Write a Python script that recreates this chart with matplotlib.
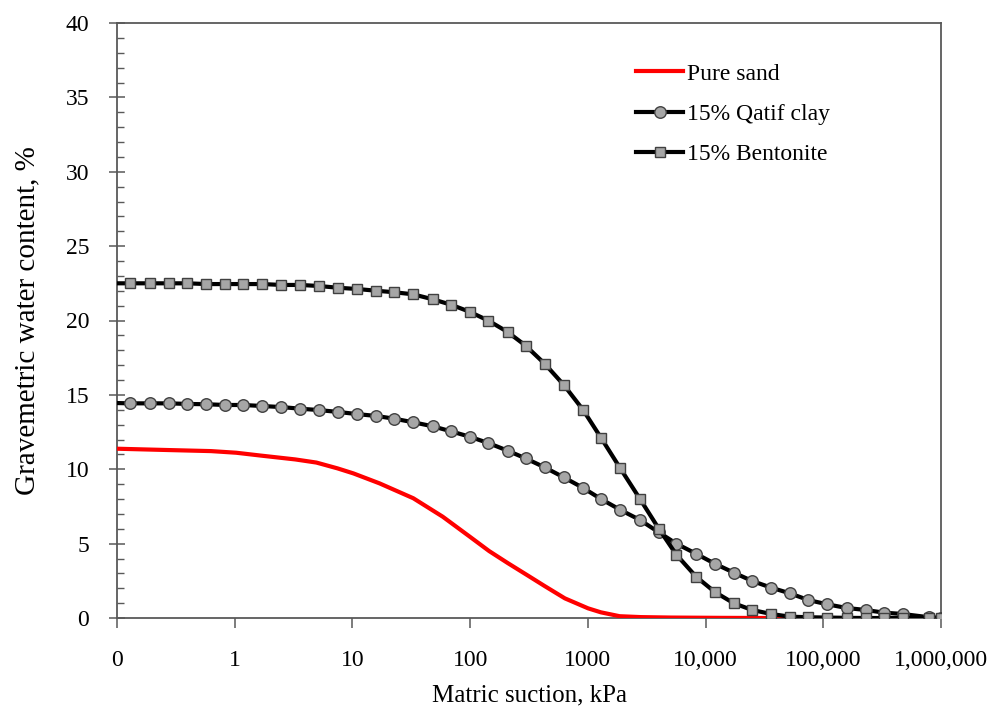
import matplotlib
matplotlib.use("Agg")
import matplotlib.pyplot as plt
from matplotlib.ticker import MultipleLocator, NullLocator

plt.rcParams['font.family'] = ['Liberation Serif', 'DejaVu Serif']

# Pure sand (smooth curve, no markers)
sand_x = [0.1, 0.276, 0.629, 1.03, 1.66, 3.27, 4.94, 7.46, 10.2, 17.0, 32.9, 58.5, 100,
          145, 208, 304, 429, 638, 1004, 1292, 1862, 2829, 5093, 13560, 31400, 60000]
sand_y = [11.38, 11.29, 11.22, 11.11, 10.92, 10.66, 10.45, 10.06, 9.72, 9.05, 8.05, 6.81,
          5.45, 4.5, 3.7, 2.89, 2.15, 1.32, 0.65, 0.38, 0.12, 0.06, 0.03, 0.01, 0.0, 0.0]

# Suction values of measured points (first value = curve start at axis, no marker)
suction = [0.1, 0.130, 0.189, 0.278, 0.395, 0.573, 0.832, 1.18, 1.72, 2.49, 3.61, 5.17,
           7.60, 10.9, 16.0, 22.6, 32.8, 47.9, 68.9, 98.8, 143, 208, 296, 429, 626, 909,
           1292, 1886, 2757, 4023, 5644, 8304, 11974, 17370, 24850, 36060, 52000, 74400,
           108000, 158800, 228500, 327600, 471600, 790700, 1000000]

qatif = [14.45, 14.43, 14.43, 14.43, 14.39, 14.37, 14.32, 14.32, 14.25, 14.18, 14.07, 13.98,
         13.85, 13.71, 13.58, 13.4, 13.16, 12.89, 12.55, 12.19, 11.76, 11.25, 10.73, 10.13,
         9.45, 8.75, 8.0, 7.27, 6.6, 5.75, 5.0, 4.32, 3.65, 3.05, 2.49, 2.04, 1.66, 1.21,
         0.92, 0.67, 0.54, 0.36, 0.27, 0.05, 0.0]

bentonite = [22.5, 22.5, 22.5, 22.5, 22.5, 22.45, 22.45, 22.45, 22.45, 22.39, 22.39, 22.32,
             22.2, 22.12, 22.0, 21.9, 21.76, 21.43, 21.06, 20.59, 19.99, 19.23, 18.31, 17.1,
             15.66, 14.0, 12.12, 10.06, 8.03, 5.98, 4.26, 2.78, 1.75, 0.99, 0.54, 0.27, 0.09,
             0.05, 0.03, 0.01, 0.0, 0.0, 0.0, 0.0, 0.0]

xticks = [0.1, 1, 10, 100, 1000, 10000, 100000, 1000000]
xticklabels = ["0", "1", "10", "100", "1000", "10,000", "100,000", "1,000,000"]

fig = plt.figure(figsize=(9.96, 7.08), dpi=100)
ax = fig.add_axes([117/996, 1-618/708, (941-117)/996, (618-23)/708])

ax.plot(sand_x, sand_y, color='#ff0000', lw=3.0, label='Pure sand', zorder=3)
mk = list(range(1, len(suction)))
ax.plot(suction, qatif, color='black', lw=3.0, marker='o', markersize=8.3,
        markerfacecolor='#a6a6a6', markeredgecolor='#404040', markeredgewidth=1.0,
        markevery=mk, label='15% Qatif clay', zorder=4)
ax.plot(suction, bentonite, color='black', lw=3.0, marker='s', markersize=7.8,
        markerfacecolor='#a6a6a6', markeredgecolor='#404040', markeredgewidth=1.0,
        markevery=mk, label='15% Bentonite', zorder=5)

ax.set_xscale('log')
ax.set_xlim(0.1, 1e6)
ax.set_ylim(0, 40)
ax.set_xticks(xticks)
ax.set_xticklabels(xticklabels)
ax.xaxis.set_minor_locator(NullLocator())
ax.yaxis.set_major_locator(MultipleLocator(5))
ax.yaxis.set_minor_locator(MultipleLocator(1))

for sp in ax.spines.values():
    sp.set_color('#595959')
    sp.set_linewidth(1.3)

ax.tick_params(axis='x', which='major', direction='out', length=7, width=1.1,
               color='#595959', pad=16, labelsize=17)
ax.tick_params(axis='y', which='major', direction='inout', length=12, width=1.1,
               color='#595959', pad=14, labelsize=17)
ax.tick_params(axis='y', which='minor', direction='in', length=5, width=1.0,
               color='#595959')

ax.set_xlabel('Matric suction, kPa', fontsize=18, labelpad=10)
ax.set_ylabel('Gravemetric water content, %', fontsize=21, labelpad=18)

leg = ax.legend(loc='upper left', bbox_to_anchor=(636/996, 1-63/708),
                bbox_transform=fig.transFigure, frameon=False, fontsize=17,
                handlelength=2.0, handletextpad=0.15, labelspacing=0.8,
                borderpad=0, borderaxespad=0, numpoints=1)

fig.savefig('out.png', dpi=100)
